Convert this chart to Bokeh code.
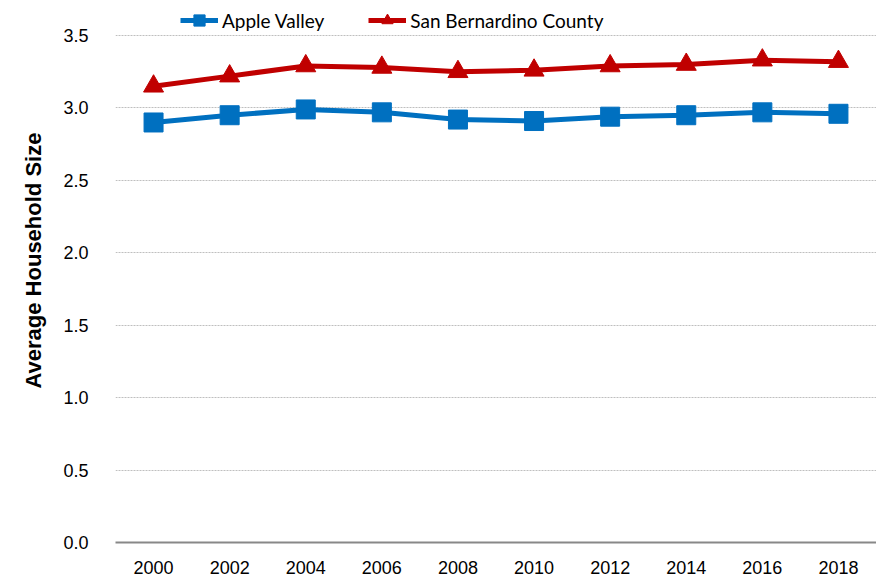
from bokeh.plotting import figure
from bokeh.models import ColumnDataSource, Legend, LegendItem, FactorRange, PrintfTickFormatter, Title
from bokeh.embed import file_html
from bokeh.resources import INLINE

years = ["2000", "2002", "2004", "2006", "2008", "2010", "2012", "2014", "2016", "2018"]
apple_valley = [2.90, 2.95, 2.99, 2.97, 2.92, 2.91, 2.94, 2.95, 2.97, 2.96]
san_bernardino = [3.15, 3.22, 3.29, 3.28, 3.25, 3.26, 3.29, 3.30, 3.33, 3.32]
y_ticks = [0.0, 0.5, 1.0, 1.5, 2.0, 2.5, 3.0, 3.5]
y_label = "Average Household Size"

FONT = "Liberation Sans"

src = ColumnDataSource(dict(year=years, av=apple_valley, sb=san_bernardino))

p = figure(x_range=FactorRange(*years), y_range=(0, 3.68), width=876, height=584,
           output_backend="svg", toolbar_location=None,
           min_border_left=115, min_border_right=0, min_border_top=9, min_border_bottom=42)
p.outline_line_color = None

l1 = p.line("year", "av", source=src, line_color="#0070C0", line_width=5)
m1 = p.scatter("year", "av", source=src, marker="square", size=19,
               fill_color="#0070C0", line_color="#0070C0")
l2 = p.line("year", "sb", source=src, line_color="#C00000", line_width=5)
m2 = p.scatter("year", "sb", source=src, marker="triangle", size=20,
               fill_color="#C00000", line_color="#C00000")

p.yaxis.ticker = y_ticks
p.yaxis.formatter = PrintfTickFormatter(format="%.1f")
p.yaxis.axis_line_color = None
p.yaxis.major_tick_line_color = None
p.yaxis.minor_tick_line_color = None
p.yaxis.major_label_text_font = FONT
p.yaxis.major_label_text_font_size = "18px"
p.yaxis.major_label_text_color = "#000000"
p.yaxis.major_label_standoff = 21

ytitle = Title(text=y_label, align="left", offset=154, standoff=30,
               text_font=FONT, text_font_size="22px", text_font_style="bold",
               text_color="#000000")
p.add_layout(ytitle, "left")

p.xaxis.axis_line_color = "#888888"
p.xaxis.axis_line_width = 2
p.xaxis.major_tick_line_color = None
p.xaxis.minor_tick_line_color = None
p.xaxis.major_label_text_font = FONT
p.xaxis.major_label_text_font_size = "18px"
p.xaxis.major_label_text_color = "#000000"
p.xaxis.major_label_standoff = 12

p.xgrid.grid_line_color = None
p.ygrid.grid_line_color = "#BFBFBF"
p.ygrid.grid_line_dash = "2 1"
p.ygrid.grid_line_width = 1

legend = Legend(items=[LegendItem(label="Apple Valley", renderers=[l1, m1]),
                       LegendItem(label="San Bernardino County", renderers=[l2, m2])],
                orientation="horizontal", location=(65, 508),
                padding=0, margin=0, spacing=44, label_standoff=4,
                glyph_width=38, glyph_height=28,
                label_text_font="Lato", label_text_font_size="19px",
                label_text_color="#000000",
                background_fill_alpha=0, border_line_color=None)
p.add_layout(legend, "center")

open("out.html", "w").write(file_html(p, INLINE))
